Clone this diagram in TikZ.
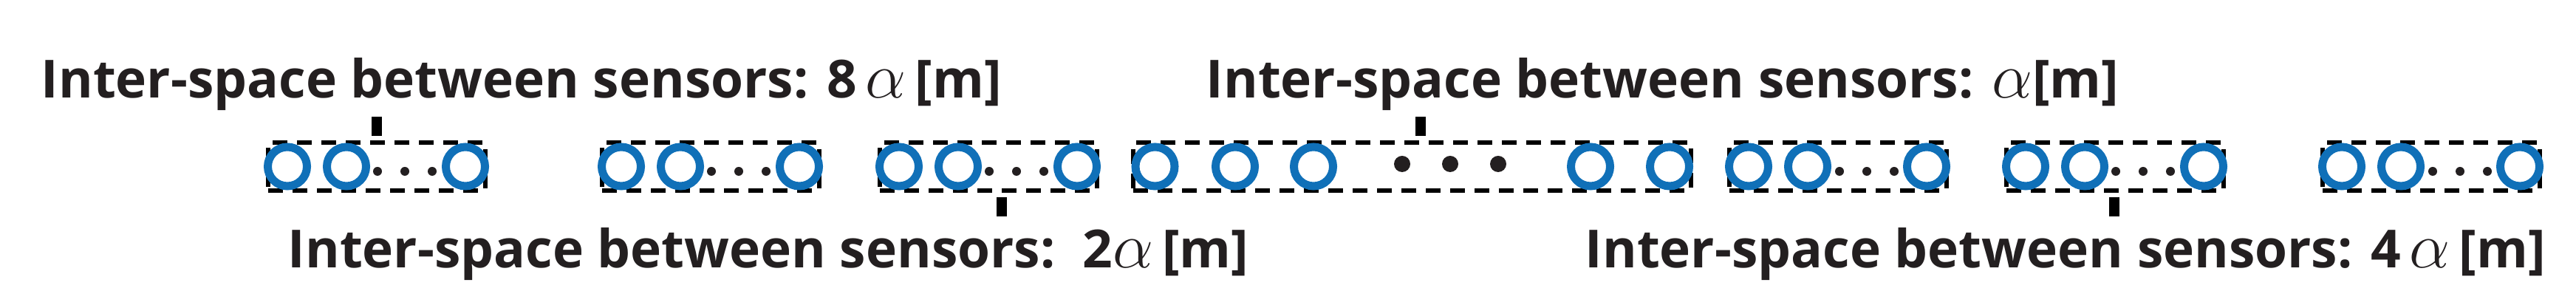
\documentclass[tikz,border=0pt]{standalone}
\usepackage{fontspec}
\setmainfont{Open Sans}
\usepackage{xcolor}
\usepackage{tikz}

\definecolor{sensorblue}{RGB}{16,112,184}
\definecolor{inkblack}{RGB}{35,31,32}

\newcommand{\bigalpha}{{\fontsize{25}{30}\selectfont$\alpha$}}

\tikzset{
  sensor/.style = {circle, draw=sensorblue, line width=0.11cm, minimum size=0.53cm, inner sep=0pt},
  grpbox/.style = {draw=black, line width=0.06cm, dash pattern=on 0.2cm off 0.13cm, minimum height=0.65cm, inner sep=0pt},
  smalldot/.style = {circle, fill=inkblack, minimum size=0.12cm, inner sep=0pt},
  bigdot/.style = {circle, fill=inkblack, minimum size=0.22cm, inner sep=0pt},
  tickbar/.style = {line width=0.14cm, black},
  spacelabel/.style = {anchor=base west, inner sep=0pt, text=inkblack, font=\fontsize{20.25}{25}\selectfont\bfseries}
}

\begin{document}
\begin{tikzpicture}
		\useasboundingbox (0,0) rectangle (34.87,4.17);

		% spacing 8 alpha
		\node[grpbox, minimum width=2.94cm] (g1box) at (5.10,1.915) {};
		\node[sensor] (g1s1) at (3.89,1.915) {};
		\node[sensor] (g1s2) at (4.69,1.915) {};
		\node[sensor] (g1s3) at (6.30,1.915) {};
		\node[smalldot] (g1d1) at (5.11,1.85) {};
		\node[smalldot] (g1d2) at (5.48,1.85) {};
		\node[smalldot] (g1d3) at (5.85,1.85) {};

		\node[grpbox, minimum width=2.94cm] (g2box) at (9.62,1.915) {};
		\node[sensor] (g2s1) at (8.41,1.915) {};
		\node[sensor] (g2s2) at (9.21,1.915) {};
		\node[sensor] (g2s3) at (10.82,1.915) {};
		\node[smalldot] (g2d1) at (9.63,1.85) {};
		\node[smalldot] (g2d2) at (10.00,1.85) {};
		\node[smalldot] (g2d3) at (10.37,1.85) {};

		% spacing 2 alpha
		\node[grpbox, minimum width=2.94cm] (g3box) at (13.38,1.915) {};
		\node[sensor] (g3s1) at (12.17,1.915) {};
		\node[sensor] (g3s2) at (12.97,1.915) {};
		\node[sensor] (g3s3) at (14.58,1.915) {};
		\node[smalldot] (g3d1) at (13.39,1.85) {};
		\node[smalldot] (g3d2) at (13.76,1.85) {};
		\node[smalldot] (g3d3) at (14.13,1.85) {};

		% spacing alpha
		\node[grpbox, minimum width=7.55cm] (g4box) at (19.115,1.915) {};
		\node[sensor] (g4s1) at (15.635,1.915) {};
		\node[sensor] (g4s2) at (16.72,1.915) {};
		\node[sensor] (g4s3) at (17.78,1.915) {};
		\node[sensor] (g4s4) at (21.53,1.915) {};
		\node[sensor] (g4s5) at (22.60,1.915) {};
		\node[bigdot] (g4d1) at (18.98,1.95) {};
		\node[bigdot] (g4d2) at (19.63,1.95) {};
		\node[bigdot] (g4d3) at (20.28,1.95) {};

		% spacing 4 alpha
		\node[grpbox, minimum width=2.94cm] (g5box) at (24.88,1.915) {};
		\node[sensor] (g5s1) at (23.67,1.915) {};
		\node[sensor] (g5s2) at (24.47,1.915) {};
		\node[sensor] (g5s3) at (26.08,1.915) {};
		\node[smalldot] (g5d1) at (24.90,1.85) {};
		\node[smalldot] (g5d2) at (25.27,1.85) {};
		\node[smalldot] (g5d3) at (25.64,1.85) {};

		\node[grpbox, minimum width=2.94cm] (g6box) at (28.63,1.915) {};
		\node[sensor] (g6s1) at (27.42,1.915) {};
		\node[sensor] (g6s2) at (28.22,1.915) {};
		\node[sensor] (g6s3) at (29.83,1.915) {};
		\node[smalldot] (g6d1) at (28.64,1.85) {};
		\node[smalldot] (g6d2) at (29.01,1.85) {};
		\node[smalldot] (g6d3) at (29.38,1.85) {};

		% spacing 8 alpha again
		\node[grpbox, minimum width=2.94cm] (g7box) at (32.91,1.915) {};
		\node[sensor] (g7s1) at (31.70,1.915) {};
		\node[sensor] (g7s2) at (32.50,1.915) {};
		\node[sensor] (g7s3) at (34.11,1.915) {};
		\node[smalldot] (g7d1) at (32.93,1.85) {};
		\node[smalldot] (g7d2) at (33.30,1.85) {};
		\node[smalldot] (g7d3) at (33.67,1.85) {};

		% labels
		\node[spacelabel] (lbleight) at (0.55,2.84) {Inter-space between sensors: 8\,\bigalpha\,[m]};
		\node[spacelabel] (lblone) at (16.32,2.84) {Inter-space between sensors: \bigalpha[m]};
		\node[spacelabel] (lbltwo) at (3.89,0.54) {Inter-space between sensors:~~2\bigalpha\,[m]};
		\node[spacelabel] (lblfour) at (21.45,0.54) {Inter-space between sensors: 4\,\bigalpha\,[m]};

		\draw[tickbar] ([yshift=0.06cm]g1box.north) -- ++(0,0.26);
		\draw[tickbar] ([xshift=0.115cm,yshift=0.06cm]g4box.north) -- ++(0,0.26);
		\draw[tickbar] ([xshift=0.18cm,yshift=-0.06cm]g3box.south) -- ++(0,-0.26);
		\draw[tickbar] ([xshift=-0.01cm,yshift=-0.06cm]g6box.south) -- ++(0,-0.26);

	\end{tikzpicture}
\end{document}
